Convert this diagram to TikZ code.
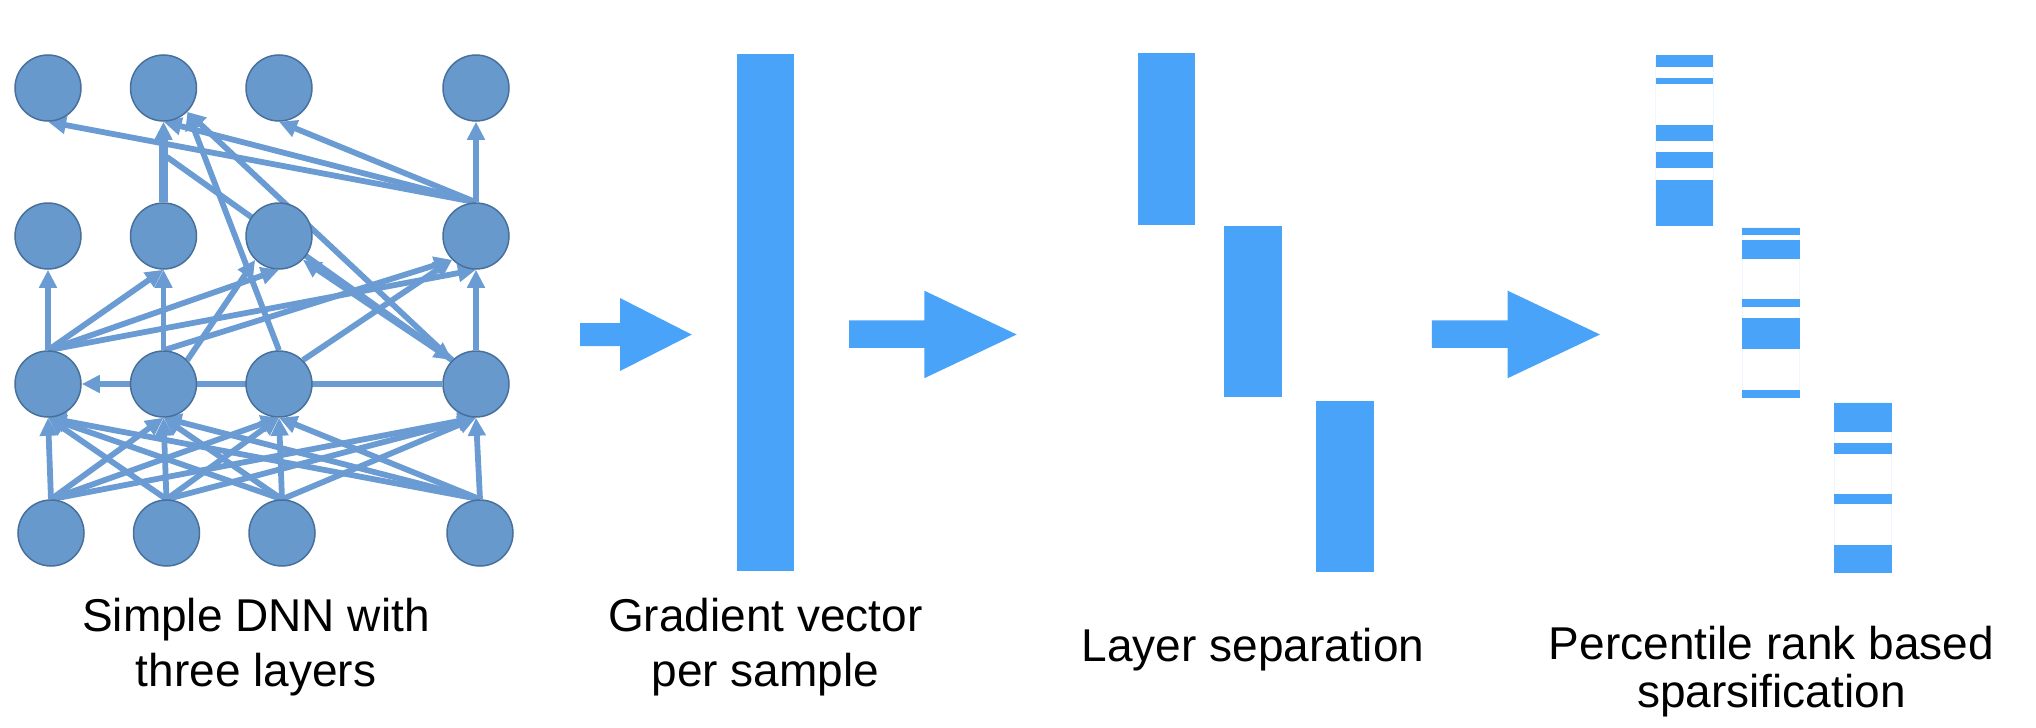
\documentclass[tikz,border=0pt]{standalone}
\usepackage{fontspec}
\setmainfont{Liberation Sans}
\usetikzlibrary{arrows.meta,backgrounds}
\definecolor{nodefill}{RGB}{103,153,205}
\definecolor{nodeline}{RGB}{72,112,155}
\definecolor{edgecol}{RGB}{106,156,211}
\definecolor{barcol}{RGB}{73,163,249}
\definecolor{faintcol}{RGB}{238,246,255}
\tikzset{
  neuron/.style={circle, fill=nodefill, draw=nodeline, line width=0.75pt, minimum size=33pt, inner sep=0pt},
  edge/.style={draw=edgecol, line width=2.9pt, -{Triangle[length=9pt,width=8.5pt]}},
  barfill/.style={fill=barcol},
  faint/.style={draw=faintcol, line width=0.5pt},
  captxt/.style={anchor=base, inner sep=0pt, font=\fontsize{23}{27}\selectfont}
}
\begin{document}
\begin{tikzpicture}[x=0.5pt, y=-0.5pt]
\useasboundingbox (0,0) rectangle (2036,728);

% ---------- network nodes ----------
\node[neuron] (T1) at (48,88) {};
\node[neuron] (T2) at (163.5,88) {};
\node[neuron] (T3) at (279,88) {};
\node[neuron] (T4) at (476,88) {};
\node[neuron] (H1) at (48,236) {};
\node[neuron] (H2) at (163.5,236) {};
\node[neuron] (H3) at (279,236) {};
\node[neuron] (H4) at (476,236) {};
\node[neuron] (M1) at (48,384) {};
\node[neuron] (M2) at (163.5,384) {};
\node[neuron] (M3) at (279,384) {};
\node[neuron] (M4) at (476,384) {};
\node[neuron] (B1) at (51,533) {};
\node[neuron] (B2) at (166.5,533) {};
\node[neuron] (B3) at (282,533) {};
\node[neuron] (B4) at (480,533) {};
\coordinate (X) at (167,157);

\begin{pgfonlayer}{background}
% input layer -> first hidden layer
\foreach \s in {B1,B2,B3,B4}{
  \foreach \t in {M1,M2,M3,M4}{
    \draw[edge] (\s.north) -- (\t.south);
  }
}
% first hidden -> second hidden
\draw[edge] (M1.north) -- (H1.south);
\draw[edge] (M1.north) -- (H2.south);
\draw[edge] (M1.north) -- (H3.south);
\draw[edge] (M1.north) -- (H4.south);
\draw[edge] (M2.north) -- (H2.south);
\draw[edge] (M2.north east) -- (H3.south west);
\draw[edge] (M2.north) -- (H4.south west);
\draw[edge] (M3.north east) -- (H4.south west);
\draw[edge] (M4.north) -- (H4.south);
\draw[edge] (M4.north west) -- (H3.south east);
\draw[edge] (X) -- (M4.north west);
\draw[edge] (M4.west) -- (M1.east);
% second hidden -> output
\draw[edge, line width=4.2pt] (H2.north) -- (T2.south);
\draw[edge] (H4.north) -- (T1.south);
\draw[edge] (H4.north) -- (T2.south);
\draw[edge] (H4.north) -- (T3.south);
\draw[edge] (H4.north) -- (T4.south);
\draw[edge] (M3.north) -- (T2.south east);
\draw[edge] (M4.north west) -- (T2.south east);
\end{pgfonlayer}

% ---------- block arrows ----------
\fill[barcol] (580,323) -- (620,323) -- (620,298) -- (691.7,334.6) -- (620,371) -- (620,346) -- (580,346) -- cycle;
\fill[barcol] (849,320.4) -- (924.3,320.4) -- (924.3,290.7) -- (1016.7,334.5) -- (924.3,378.2) -- (924.3,347.9) -- (849,347.9) -- cycle;
\fill[barcol] (1431.9,320.4) -- (1507.7,320.4) -- (1507.7,290.7) -- (1600,334.5) -- (1507.7,378.2) -- (1507.7,347.9) -- (1431.9,347.9) -- cycle;

% ---------- gradient vector ----------
\fill[barfill] (736.7,54.3) rectangle (794.3,571.1);

% ---------- layer separation ----------
\fill[barfill] (1137.5,53.2) rectangle (1195,224.6);
\fill[barfill] (1224.3,226.1) rectangle (1281.8,396.8);
\fill[barfill] (1316.2,401.4) rectangle (1373.7,571.8);

% ---------- sparsified layers ----------
\draw[faint] (1655.7,55) rectangle (1713,225.7);
\draw[faint] (1742.3,227.5) rectangle (1799.7,397.9);
\draw[faint] (1834.3,402.5) rectangle (1891.7,572.9);
% column A
\fill[barfill] (1655.7,55) rectangle (1713,66.8);
\fill[barfill] (1655.7,77.9) rectangle (1713,84.3);
\fill[barfill] (1655.7,124.6) rectangle (1713,141.1);
\fill[barfill] (1655.7,152.1) rectangle (1713,168.2);
\fill[barfill] (1655.7,180) rectangle (1713,225.7);
% column B
\fill[barfill] (1742.3,227.5) rectangle (1799.7,234.6);
\fill[barfill] (1742.3,240) rectangle (1799.7,258.9);
\fill[barfill] (1742.3,299.3) rectangle (1799.7,307.1);
\fill[barfill] (1742.3,318.2) rectangle (1799.7,348.9);
\fill[barfill] (1742.3,389.6) rectangle (1799.7,397.9);
% column C
\fill[barfill] (1834.3,402.5) rectangle (1891.7,431.8);
\fill[barfill] (1834.3,442.9) rectangle (1891.7,453.6);
\fill[barfill] (1834.3,493.9) rectangle (1891.7,504.3);
\fill[barfill] (1834.3,544.6) rectangle (1891.7,572.9);

% ---------- captions ----------
\node[captxt] (c1a) at (256,631) {Simple DNN with};
\node[captxt] (c1b) at (256,686) {three layers};
\node[captxt] (c2a) at (765.3,631) {Gradient vector};
\node[captxt] (c2b) at (765.3,686) {per sample};
\node[captxt] (c3a) at (1253,661.7) {Layer separation};
\node[captxt] (c4a) at (1771.4,659) {Percentile rank based};
\node[captxt] (c4b) at (1771.4,707) {sparsification};
\end{tikzpicture}
\end{document}
